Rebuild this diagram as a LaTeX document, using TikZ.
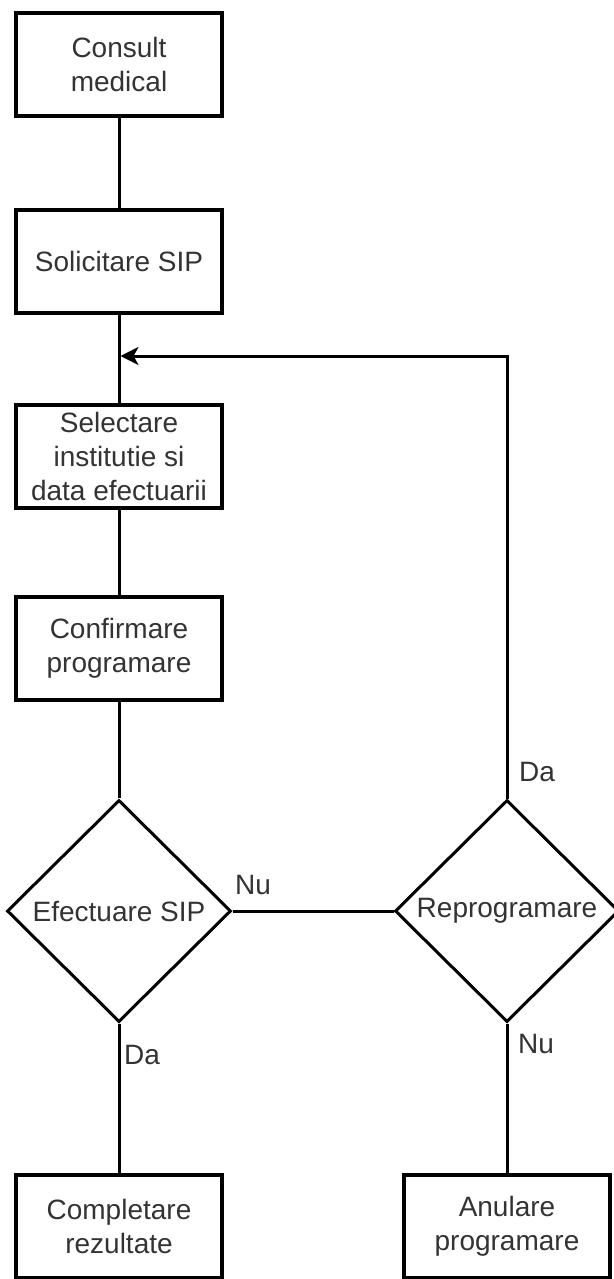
\documentclass[tikz,border=0pt]{standalone}
\usepackage{fontspec}
\setmainfont{Liberation Sans}
\usetikzlibrary{shapes.geometric,arrows.meta}
\newcommand{\boxWidth}[0]{206pt}
\newcommand{\boxHeight}[0]{103pt}
\newcommand{\edgeWidth}[0]{3pt}
\definecolor{textgray}{HTML}{333333}

\begin{document}
\begin{tikzpicture}[x=1pt, y=-1pt]
  \tikzset{every node/.style={font=\fontsize{28}{34}\selectfont, text=textgray, align=center}}
  \tikzset{stepbox/.style={draw, line width=3.5pt, minimum width=\boxWidth, minimum height=\boxHeight, inner sep=0pt}}
  \tikzset{choice/.style={draw, diamond, line width=3pt, minimum width=224pt, minimum height=222pt, inner sep=0pt}}
  \tikzset{edge/.style={draw=black, line width=\edgeWidth}}
  \useasboundingbox (0,0) rectangle (613,1279);
  \node[stepbox] (consult) at (119,64.5) {Consult\\medical};
  \node[stepbox] (solicitare) at (119,261.5) {Solicitare SIP};
  \node[stepbox] (selectare) at (119,456.5) {Selectare\\institutie si\\data efectuarii};
  \node[stepbox] (confirmare) at (119,648.5) {Confirmare\\programare};
  \node[choice] (efectuare) at (119,911) {Efectuare SIP};
  \node[choice] (reprogramare) at (507,911) {Reprogramare};
  \node[stepbox] (completare) at (119,1226.5) {Completare\\rezultate};
  \node[stepbox] (anulare) at (507,1226.5) {Anulare\\programare};
  \coordinate (revenire) at (120.5,356);
  \node (nu-1) at (253,885) {Nu};
  \node (da-1) at (537,772) {Da};
  \node (da-2) at (142,1055) {Da};
  \node (nu-2) at (536,1044) {Nu};
  \draw[edge] (consult) -- (solicitare);
  \draw[edge] (solicitare) -- (selectare);
  \draw[edge] (selectare) -- (confirmare);
  \draw[edge] (confirmare) -- (efectuare);
  \draw[edge] (efectuare.east) -- (reprogramare.west);
  \draw[edge] (efectuare) -- (completare);
  \draw[edge] (reprogramare) -- (anulare);
  \draw[edge, -{Stealth[length=18pt, width=18pt, inset=5pt]}] (reprogramare.north) |- (revenire);
\end{tikzpicture}
\end{document}
